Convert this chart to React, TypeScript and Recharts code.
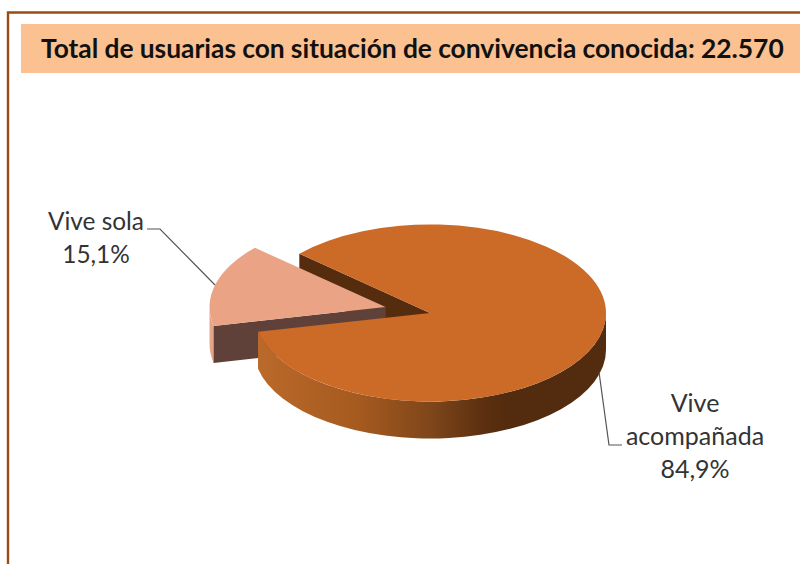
import { PieChart, Pie } from 'recharts';

const categories = ['Vive acompañada', 'Vive sola'];
const shares = [84.9, 15.1];
const labelLines = [['Vive', 'acompañada'], ['Vive sola']];
const titleText = 'Total de usuarias con situación de convivencia conocida: 22.570';

const tableData = categories.map((name, i) => ({ name, value: shares[i] }));

const FONT = 'Lato, Carlito, sans-serif';
const SQUASH = 0.503;
const DEPTH = 37;
const EXPLODE = 46;

const polar = (cx: number, cy: number, r: number, deg: number) => {
  const a = (deg * Math.PI) / 180;
  return { x: cx + r * Math.cos(a), y: cy - r * SQUASH * Math.sin(a) };
};

// top face of a slice, squashed into an ellipse
const topPath = (cx: number, cy: number, r: number, start: number, end: number) => {
  const p0 = polar(cx, cy, r, start);
  const p1 = polar(cx, cy, r, end);
  const large = end - start > 180 ? 1 : 0;
  return `M${cx},${cy} L${p0.x},${p0.y} A${r},${r * SQUASH} 0 ${large} 0 ${p1.x},${p1.y} Z`;
};

// rim between two angles, only for the part facing the viewer
const rimPath = (cx: number, cy: number, r: number, start: number, end: number) => {
  const p0 = polar(cx, cy, r, start);
  const p1 = polar(cx, cy, r, end);
  const ry = r * SQUASH;
  return `M${p0.x},${p0.y} A${r},${ry} 0 0 0 ${p1.x},${p1.y} L${p1.x},${p1.y + DEPTH} A${r},${ry} 0 0 1 ${p0.x},${p0.y + DEPTH} Z`;
};

const cutPath = (cx: number, cy: number, r: number, deg: number) => {
  const p = polar(cx, cy, r, deg);
  return `M${cx},${cy} L${p.x},${p.y} L${p.x},${p.y + DEPTH} L${cx},${cy + DEPTH} Z`;
};

const BackLayer = (props: any) => {
  const { cx, cy, outerRadius, endAngle, name } = props;
  if (name !== categories[0]) return <g />;
  return <path d={cutPath(cx, cy, outerRadius, endAngle)} fill="#562c0e" />;
};

const SolaLayer = (props: any) => {
  const { cx, cy, outerRadius, startAngle, endAngle, name } = props;
  if (name !== categories[1]) return <g />;
  const mid = (startAngle + endAngle) / 2;
  const o = polar(cx, cy, EXPLODE, mid);
  return (
    <g>
      <path d={rimPath(o.x, o.y, outerRadius, 180, endAngle)} fill="#e5a588" />
      <path d={cutPath(o.x, o.y, outerRadius, endAngle)} fill="#60413a" />
      <path d={topPath(o.x, o.y, outerRadius, startAngle, endAngle)} fill="#eba385" />
    </g>
  );
};

const FrontLayer = (props: any) => {
  const { cx, cy, outerRadius, startAngle, endAngle, name } = props;
  if (name !== categories[0]) return <g />;
  return (
    <g>
      <defs>
        <linearGradient id="rimFill" gradientUnits="userSpaceOnUse" x1={cx - outerRadius} x2={cx + outerRadius} y1={0} y2={0}>
          <stop offset="0" stopColor="#bb6a2a" />
          <stop offset="0.3" stopColor="#a55a1f" />
          <stop offset="0.5" stopColor="#7f461a" />
          <stop offset="0.65" stopColor="#5c3010" />
          <stop offset="0.72" stopColor="#532b0e" />
          <stop offset="1" stopColor="#532b0e" />
        </linearGradient>
      </defs>
      <path d={rimPath(cx, cy, outerRadius, startAngle, 360)} fill="url(#rimFill)" />
      <path d={topPath(cx, cy, outerRadius, startAngle, endAngle)} fill="#cc6a27" />
    </g>
  );
};

const pctText = (v: number) => `${v.toFixed(1).replace('.', ',')}%`;

const SliceLabel = (props: any) => {
  const { name, value } = props;
  const idx = categories.indexOf(name);
  const textProps = { fontFamily: FONT, fill: '#333333', textAnchor: 'middle' as const };
  if (idx === 0) {
    return (
      <g>
        <polyline points="599,372 609,445 622,445" fill="none" stroke="#555555" strokeWidth={1.2} />
        <text x={695} y={412} fontSize={25} {...textProps}>{labelLines[0][0]}</text>
        <text x={695} y={445} fontSize={25} {...textProps}>{labelLines[0][1]}</text>
        <text x={695} y={478} fontSize={25} {...textProps}>{pctText(value)}</text>
      </g>
    );
  }
  return (
    <g>
      <polyline points="147,229 160,229 215,285" fill="none" stroke="#555555" strokeWidth={1.2} />
      <text x={96} y={230} fontSize={24.4} {...textProps}>{labelLines[1][0]}</text>
      <text x={96} y={263} fontSize={24.4} {...textProps}>{pctText(value)}</text>
    </g>
  );
};

const pieProps = {
  data: tableData,
  dataKey: 'value',
  nameKey: 'name',
  cx: 430,
  cy: 313,
  outerRadius: 176,
  startAngle: 192.3,
  endAngle: 552.3,
  stroke: 'none',
  isAnimationActive: false,
};

export default function App() {
  return (
    <div style={{ position: 'absolute', left: 0, top: 0, width: 800, height: 564, overflow: 'hidden', background: '#fff' }}>
      <svg width={800} height={564} style={{ position: 'absolute', left: 0, top: 0 }}>
        <path d="M8,564 L8,12.5 L800,12.5" fill="none" stroke="#9a4c10" strokeWidth={2.4} />
        <rect x={21} y={24} width={779} height={49} fill="#fbc190" />
        <text x={41} y={58} fontFamily={FONT} fontWeight={700} fontSize={26.4} fill="#111111" wordSpacing={-0.25}>
          {titleText}
        </text>
      </svg>
      <div style={{ position: 'absolute', left: 0, top: 0 }}>
        <PieChart width={800} height={564} margin={{ top: 0, right: 0, bottom: 0, left: 0 }}>
          <Pie {...pieProps} shape={BackLayer} label={false} labelLine={false} />
          <Pie {...pieProps} shape={SolaLayer} label={false} labelLine={false} />
          <Pie {...pieProps} shape={FrontLayer} label={SliceLabel} labelLine={false} />
        </PieChart>
      </div>
    </div>
  );
}
